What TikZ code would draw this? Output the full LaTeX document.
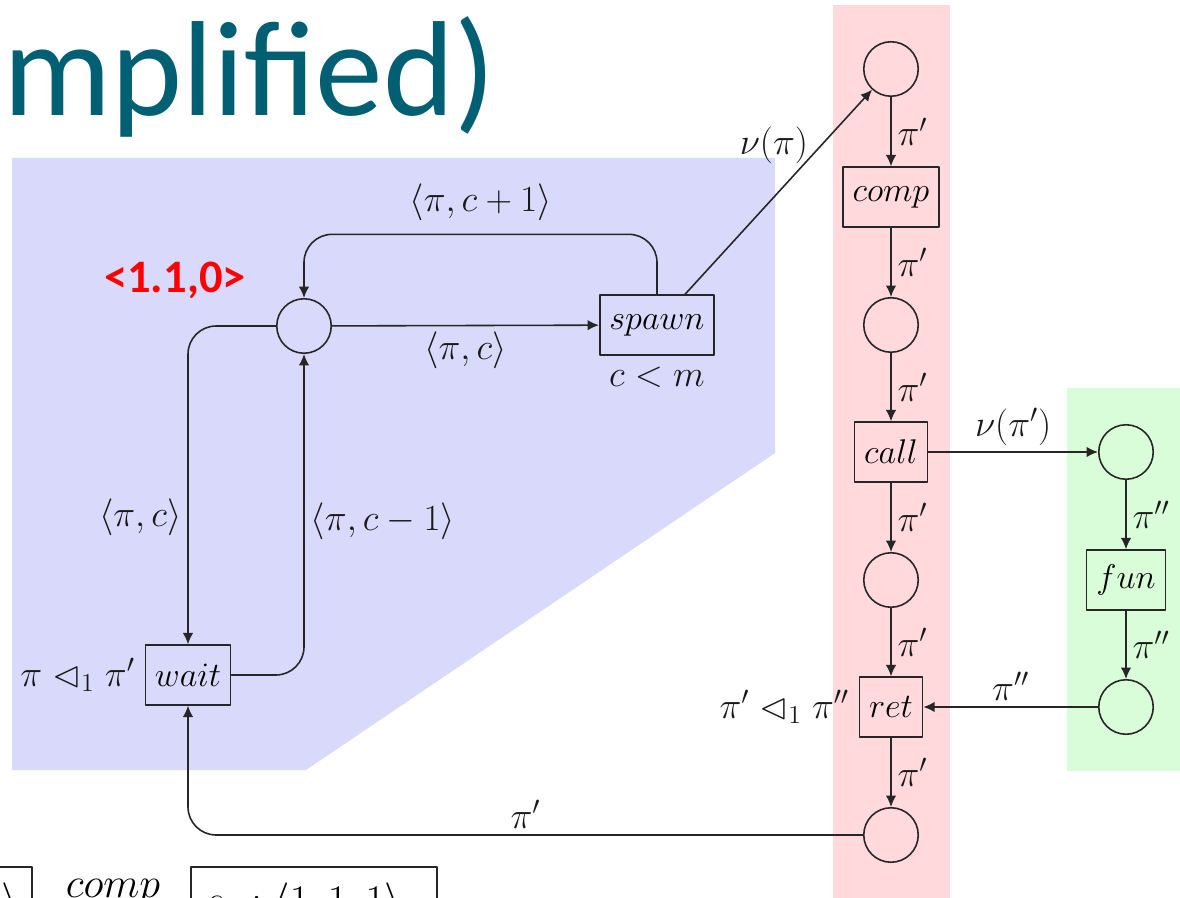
\RequirePackage{fix-cm}
\documentclass[tikz,border=0pt]{standalone}
\usepackage{fontspec}
\usepackage{amssymb}
\usetikzlibrary{arrows.meta, positioning}
\newfontfamily\slidefont{Carlito}
\definecolor{slideteal}{HTML}{005F73}
\definecolor{bluezone}{RGB}{217,217,252}
\definecolor{redzone}{RGB}{255,217,219}
\definecolor{greenzone}{RGB}{217,253,217}
\newcommand{\netfont}{\fontsize{19.5}{23}\selectfont}
\newcommand{\lblfont}{\fontsize{21}{25}\selectfont}
\newcommand{\stripfont}{\fontsize{24}{28}\selectfont}

\begin{document}
\begin{tikzpicture}[
  x=0.02cm, y=-0.02cm, line cap=round, line join=round,
  place/.style={circle, draw=black!85, line width=0.9pt, minimum size=31pt, inner sep=0pt},
  trans/.style={rectangle, draw=black!85, line width=0.9pt, minimum height=34pt, inner xsep=5.5pt, font=\netfont},
  arc/.style={-{Latex[length=6.5pt, width=6pt]}, draw=black!85, line width=0.9pt, rounded corners=16pt},
  lbl/.style={font=\lblfont, text=black!90},
]

\path[use as bounding box] (0,0) rectangle (1180,898);
\clip (0,0) rectangle (1180,898);
\fill[white] (0,0) rectangle (1180,898);

% Zones
\fill[bluezone] (12,158) -- (775,158) -- (775,453) -- (306,770) -- (12,770) -- cycle;
\fill[redzone] (833,5) rectangle (950,910);
\fill[greenzone] (1067,388) rectangle (1190,771);

% Title
\node[anchor=base west, inner sep=0pt, font=\slidefont\fontsize{77}{92}\selectfont, text=slideteal] (title) at (3,116) {mplified)};

% Main net
\node[place] (p0) at (304,326) {};
\node[trans] (spawn) at (657,325) {$spawn$};
\node[trans] (wait) at (188,675) {$wait$};
\node[lbl, below=3pt of spawn] (guard) {$c<m$};
\node[lbl, left=2pt of wait] (waitcond) {$\pi \mathrel{\lhd_1} \pi'$};
\node[font=\slidefont\bfseries\fontsize{26.5}{30}\selectfont, text=red] (step) at (175,280) {<1.1,0>};

% Thread
\node[place] (r1) at (891,69) {};
\node[trans] (comp) at (891,197) {$comp$};
\node[place] (r2) at (891,325) {};
\node[trans] (call) at (891,452) {$call$};
\node[place] (r3) at (891,580) {};
\node[trans] (ret) at (891,707) {$ret$};
\node[place] (r4) at (891,835) {};
\node[lbl, left=2pt of ret] (retcond) {$\pi' \mathrel{\lhd_1} \pi''$};

% Function
\node[place] (g1) at (1126,452) {};
\node[trans] (fun) at (1126,580) {$fun$};
\node[place] (g2) at (1126,707) {};

% Arcs
\draw[arc] (p0) -- node[lbl, below] {$\langle\pi,c\rangle$} (spawn);
\draw[arc] (spawn.north) -- ++(0,-60) -| node[lbl, pos=0.25, above=4pt] {$\langle\pi,c+1\rangle$} (p0.north);
\draw[arc] (p0.west) -| node[lbl, pos=0.8, left] {$\langle\pi,c\rangle$} (wait.north);
\draw[arc] (wait.east) -| node[lbl, pos=0.74, right] {$\langle\pi,c-1\rangle$} (p0.south);
\draw[arc] (spawn) -- node[lbl, pos=0.73, left=4pt] {$\nu(\pi)$} (r1);
\foreach \a/\b in {r1/comp, comp/r2, r2/call, call/r3, r3/ret, ret/r4}
  \draw[arc] (\a) -- node[lbl, right] {$\pi'$} (\b);
\draw[arc] (call) -- node[lbl, above] {$\nu(\pi')$} (g1);
\draw[arc] (g1) -- node[lbl, right] {$\pi''$} (fun);
\draw[arc] (fun) -- node[lbl, right] {$\pi''$} (g2);
\draw[arc] (g2) -- node[lbl, above] {$\pi''$} (ret);
\draw[arc] (r4.west) -| node[lbl, pos=0.25, above] {$\pi'$} (wait.south);

% Cut-off strip
\node[draw=black!85, line width=0.9pt, anchor=north east, text width=40pt, align=right, inner xsep=8pt, minimum height=42pt, font=\stripfont] (cutl) at (33,866) {$\rangle$};
\node[anchor=base, font=\stripfont] (cutc) at (113,897) {$comp$};
\node[draw=black!85, line width=0.9pt, anchor=north west, text width=124pt, inner xsep=8pt, minimum height=42pt, font=\stripfont] (cutr) at (190,866) {$s_1 : \langle 1,1,1\rangle$};

\end{tikzpicture}
\end{document}
